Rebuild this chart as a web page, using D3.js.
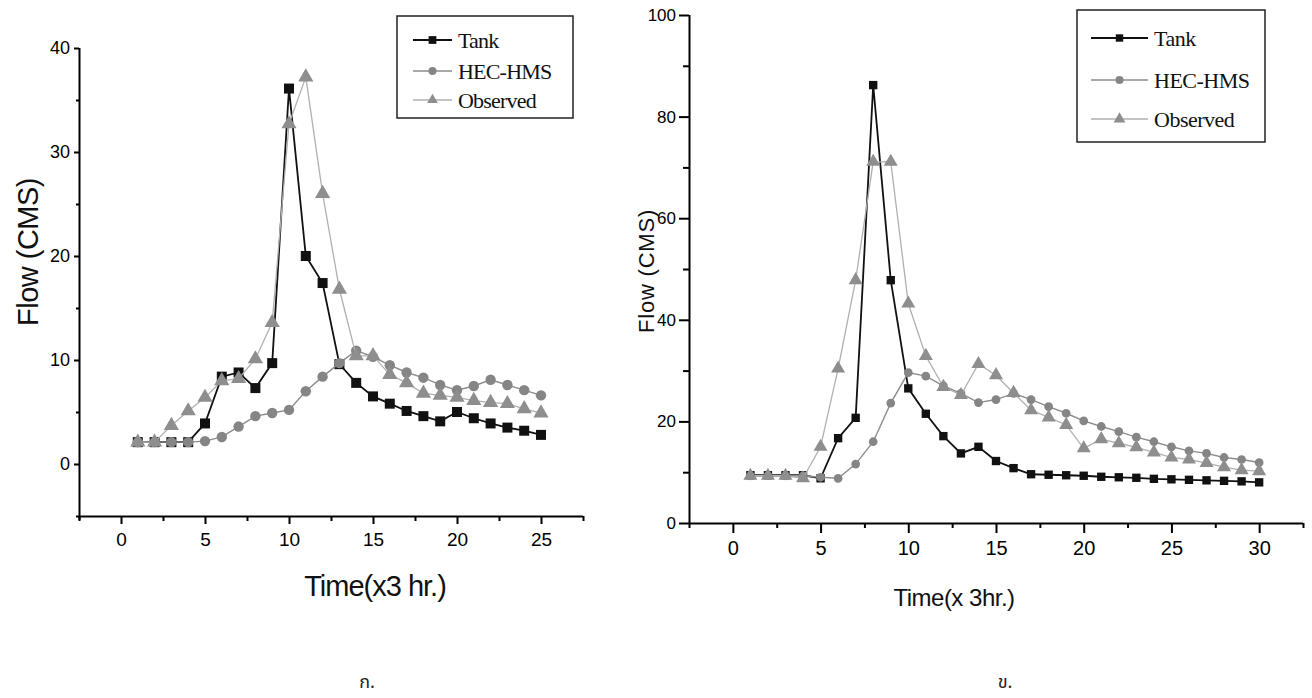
<!DOCTYPE html>
<html>
<head>
<meta charset="utf-8">
<script src="https://cdn.jsdelivr.net/npm/d3@7"></script>
<style>
  body { margin: 0; background: #fff; }
  svg { display: block; }
</style>
</head>
<body>
<div id="wrapper"></div>
<script>
// ---- data ----
const timeA = [1,2,3,4,5,6,7,8,9,10,11,12,13,14,15,16,17,18,19,20,21,22,23,24,25]
const tankA = [2.1,2.1,2.1,2.1,3.9,8.4,8.8,7.3,9.7,36.1,20.0,17.4,9.6,7.8,6.5,5.8,5.1,4.6,4.1,5.0,4.4,3.9,3.5,3.2,2.8]
const hecA  = [2.1,2.1,2.1,2.1,2.2,2.6,3.6,4.6,4.9,5.2,7.0,8.4,9.7,10.9,10.3,9.5,8.8,8.3,7.6,7.1,7.5,8.1,7.6,7.1,6.6]
const obsA  = [2.1,2.1,3.7,5.1,6.4,8.0,8.2,10.1,13.6,32.7,37.2,26.0,16.8,10.4,10.4,8.6,7.8,6.8,6.6,6.4,6.1,5.9,5.8,5.3,4.9]

const timeB = [1,2,3,4,5,6,7,8,9,10,11,12,13,14,15,16,17,18,19,20,21,22,23,24,25,26,27,28,29,30]
const tankB = [9.4,9.4,9.4,9.4,8.8,16.7,20.7,86.2,47.8,26.5,21.5,17.1,13.7,15.0,12.2,10.8,9.6,9.5,9.4,9.3,9.1,9.0,8.9,8.7,8.6,8.5,8.4,8.3,8.2,8.0]
const hecB  = [9.3,9.3,9.3,9.3,9.0,8.8,11.6,16.0,23.6,29.6,28.9,27.0,25.5,23.7,24.3,25.5,24.3,22.9,21.6,20.1,19.0,18.0,16.9,16.0,15.0,14.2,13.7,12.9,12.5,11.9]
const obsB  = [9.3,9.3,9.3,8.8,15.0,30.4,47.8,71.1,71.1,43.2,32.9,26.8,25.2,31.3,29.1,25.6,22.2,20.8,19.3,14.7,16.5,15.7,14.9,13.9,12.9,12.5,11.8,11.0,10.4,10.2]

const seriesNames = ["Tank", "HEC-HMS", "Observed"]
const xTicksA = [0, 5, 10, 15, 20, 25]
const yTicksA = [0, 10, 20, 30, 40]
const xTicksB = [0, 5, 10, 15, 20, 25, 30]
const yTicksB = [0, 20, 40, 60, 80, 100]
const captions = ["ก.", "ข."]

const width = 1312, height = 698

const svg = d3.select("#wrapper").append("svg")
    .attr("width", width)
    .attr("height", height)

// series styling
const styles = {
    "Tank":     { symbol: d3.symbolSquare,   fill: "#111", line: "#111", lw: 1.8 },
    "HEC-HMS":  { symbol: d3.symbolCircle,   fill: "#858585", line: "#8c8c8c", lw: 1.4 },
    "Observed": { symbol: d3.symbolTriangle, fill: "#8e8e8e", line: "#b0b0b0", lw: 1.3 }
}

function drawPanel(p) {
    const g = svg.append("g")
    const x = d3.scaleLinear().domain(p.xDomain).range(p.xRange)
    const y = d3.scaleLinear().domain(p.yDomain).range(p.yRange)

    // minor ticks
    const xMinor = d3.range(p.xDomain[0], p.xDomain[1] + 0.01, 2.5).filter(v => v % 5 !== 0)

    g.append("g")
        .attr("transform", `translate(0,${p.yRange[0]})`)
        .call(d3.axisBottom(x).tickValues(xMinor).tickSize(p.minorX).tickFormat(""))
        .call(a => a.select(".domain").remove())
        .selectAll("line").attr("stroke-width", 2)

    g.append("g")
        .attr("transform", `translate(${p.xRange[0]},0)`)
        .call(d3.axisLeft(y).tickValues(p.yMinor).tickSize(p.minorY).tickFormat(""))
        .call(a => a.select(".domain").remove())
        .selectAll("line").attr("stroke-width", 2)

    const xAxis = g.append("g")
        .attr("transform", `translate(0,${p.yRange[0]})`)
        .call(d3.axisBottom(x).tickValues(p.xTicks).tickSize(p.majorX).tickSizeOuter(0).tickPadding(p.xPad))
    xAxis.select(".domain").attr("stroke-width", 2).attr("d", `M${p.xRange[0]},0.5H${p.xRange[1]}`)
    xAxis.selectAll("line").attr("stroke-width", 2)
    xAxis.selectAll("text")
        .attr("font-family", p.tickFont)
        .attr("font-size", p.xTickSize)
        .attr("fill", "#000")

    const yAxis = g.append("g")
        .attr("transform", `translate(${p.xRange[0]},0)`)
        .call(d3.axisLeft(y).tickValues(p.yTicks).tickSize(p.majorY).tickSizeOuter(0).tickPadding(p.yPad))
    yAxis.select(".domain").attr("stroke-width", 2).attr("d", `M0.5,${p.yRange[1]}V${p.yRange[0] + p.crossY}`)
    yAxis.selectAll("line").attr("stroke-width", 2)
    yAxis.selectAll("text")
        .attr("font-family", p.tickFont)
        .attr("font-size", p.yTickSize)
        .attr("fill", "#000")

    // series
    const series = [
        { name: "Tank", values: p.tank },
        { name: "HEC-HMS", values: p.hec },
        { name: "Observed", values: p.obs }
    ]
    const line = d3.line().x(d => x(d[0])).y(d => y(d[1]))

    series.forEach(s => {
        const st = styles[s.name]
        const pts = p.time.map((t, i) => [t, s.values[i]])
        g.append("path")
            .datum(pts)
            .attr("fill", "none")
            .attr("stroke", st.line)
            .attr("stroke-width", st.lw)
            .attr("d", line)
        g.append("g")
            .selectAll("path")
            .data(pts)
            .join("path")
            .attr("transform", d => `translate(${x(d[0])},${y(d[1])})`)
            .attr("d", d3.symbol(st.symbol, p.markerArea[s.name]))
            .attr("fill", st.fill)
    })

    // axis titles
    g.append("text")
        .attr("transform", `translate(${p.yTitlePos[0]},${p.yTitlePos[1]}) rotate(-90)`)
        .attr("text-anchor", "middle")
        .attr("font-family", p.titleFont)
        .attr("font-size", p.yTitleSize)
        .attr("letter-spacing", p.yTitleSpacing)
        .attr("fill", "#111")
        .text(p.yTitle)

    g.append("text")
        .attr("x", p.xTitlePos[0])
        .attr("y", p.xTitlePos[1])
        .attr("text-anchor", "middle")
        .attr("font-family", p.titleFont)
        .attr("font-size", p.xTitleSize)
        .attr("letter-spacing", p.xTitleSpacing)
        .attr("fill", "#111")
        .text(p.xTitle)

    // legend
    const L = p.legend
    g.append("rect")
        .attr("x", L.x).attr("y", L.y)
        .attr("width", L.w).attr("height", L.h)
        .attr("fill", "#fff")
        .attr("stroke", "#222")
        .attr("stroke-width", 1.5)

    seriesNames.forEach((name, i) => {
        const st = styles[name]
        const cy = L.rows[i]
        g.append("line")
            .attr("x1", L.lx0).attr("x2", L.lx1)
            .attr("y1", cy).attr("y2", cy)
            .attr("stroke", st.line)
            .attr("stroke-width", st.lw)
        g.append("path")
            .attr("transform", `translate(${(L.lx0 + L.lx1) / 2},${cy})`)
            .attr("d", d3.symbol(st.symbol, L.markerArea[name]))
            .attr("fill", st.fill)
        g.append("text")
            .attr("x", L.tx)
            .attr("y", cy)
            .attr("dy", "0.35em")
            .attr("font-family", "'Liberation Serif', 'Times New Roman', serif")
            .attr("font-size", L.fontSize)
            .attr("letter-spacing", L.spacing)
            .attr("fill", "#111")
            .text(name)
    })

    // caption
    g.append("text")
        .attr("x", p.caption[0])
        .attr("y", p.caption[1])
        .attr("text-anchor", "middle")
        .attr("font-family", "'Noto Sans Thai', 'Noto Serif Thai', 'Loma', 'Garuda', 'DejaVu Sans', sans-serif")
        .attr("font-size", 18)
        .attr("fill", "#222")
        .text(p.captionText)
}

// panel ก.
drawPanel({
    time: timeA, tank: tankA, hec: hecA, obs: obsA,
    xDomain: [-2.5, 27.5], xRange: [79, 583],
    yDomain: [-5, 40], yRange: [516, 48],
    xTicks: xTicksA, yTicks: yTicksA,
    yMinor: [-5, 5, 15, 25, 35],
    majorX: 8, minorX: 5, majorY: 5, minorY: 3,
    xPad: 9, yPad: 4,
    crossY: 4,
    tickFont: "'Liberation Sans', Arial, sans-serif",
    xTickSize: 19, yTickSize: 18,
    markerArea: { "Tank": 100, "HEC-HMS": 85, "Observed": 100 },
    titleFont: "'Liberation Sans', Arial, sans-serif",
    yTitle: "Flow (CMS)", yTitlePos: [38, 252], yTitleSize: 29, yTitleSpacing: -0.5,
    xTitle: "Time(x3 hr.)", xTitlePos: [375, 596], xTitleSize: 29, xTitleSpacing: -1,
    legend: {
        x: 397, y: 16, w: 176, h: 102,
        rows: [40, 71, 100],
        lx0: 413, lx1: 452, tx: 458,
        fontSize: 22, spacing: -0.8,
        markerArea: { "Tank": 60, "HEC-HMS": 50, "Observed": 50 }
    },
    caption: [367, 688], captionText: captions[0]
})

// panel ข.
drawPanel({
    time: timeB, tank: tankB, hec: hecB, obs: obsB,
    xDomain: [-2.5, 32.5], xRange: [689, 1303],
    yDomain: [0, 100], yRange: [523, 15],
    xTicks: xTicksB, yTicks: yTicksB,
    yMinor: [10, 30, 50, 70, 90],
    majorX: 10, minorX: 5, majorY: 10, minorY: 6,
    xPad: 8, yPad: 3,
    crossY: 0,
    tickFont: "'Liberation Sans Narrow', 'Arial Narrow', 'Liberation Sans', sans-serif",
    xTickSize: 20, yTickSize: 17,
    markerArea: { "Tank": 70, "HEC-HMS": 60, "Observed": 85 },
    titleFont: "'Liberation Sans Narrow', 'Arial Narrow', 'Liberation Sans', sans-serif",
    yTitle: "Flow (CMS)", yTitlePos: [654, 271], yTitleSize: 22, yTitleSpacing: 0.8,
    xTitle: "Time(x 3hr.)", xTitlePos: [954, 606], xTitleSize: 24, xTitleSpacing: -0.5,
    legend: {
        x: 1077, y: 10, w: 188, h: 132,
        rows: [38, 80, 119],
        lx0: 1091, lx1: 1148, tx: 1154,
        fontSize: 22, spacing: -0.5,
        markerArea: { "Tank": 55, "HEC-HMS": 50, "Observed": 60 }
    },
    caption: [1005, 688], captionText: captions[1]
})
</script>
</body>
</html>
